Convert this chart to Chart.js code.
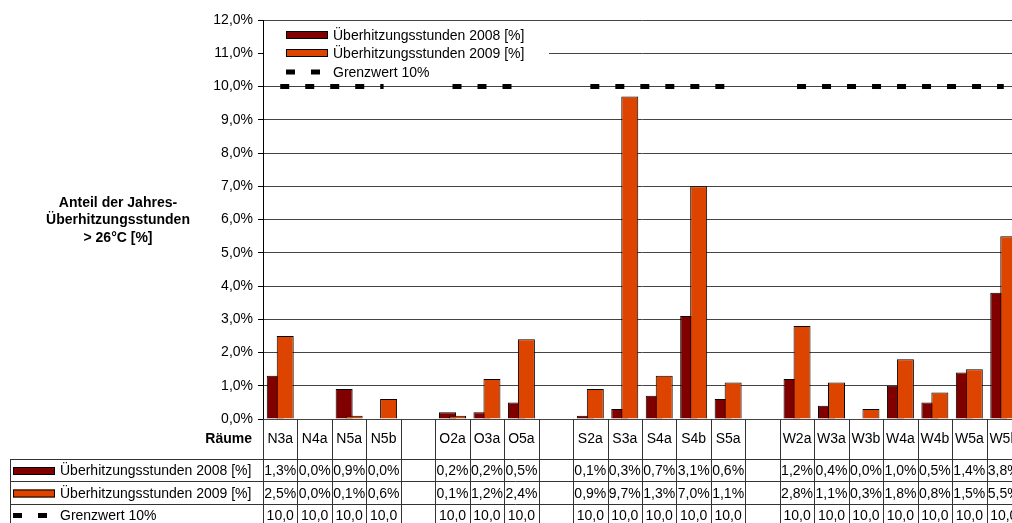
<!DOCTYPE html>
<html>
<head>
<meta charset="utf-8">
<script src="https://cdn.jsdelivr.net/npm/chart.js@4.4.1/dist/chart.umd.min.js"></script>
<style>
  html, body { margin: 0; padding: 0; background: #fff; overflow: hidden; }
  #wrap { width: 1021px; height: 523px; }
</style>
</head>
<body>
<div id="wrap"><canvas id="c" width="1021" height="523"></canvas></div>
<script>
// Rooms (empty entries separate the building sides N / O / S / W)
const rooms = ['N3a', 'N4a', 'N5a', 'N5b', '', 'O2a', 'O3a', 'O5a', '',
               'S2a', 'S3a', 'S4a', 'S4b', 'S5a', '',
               'W2a', 'W3a', 'W3b', 'W4a', 'W4b', 'W5a', 'W5b'];

// Share of annual overheating hours > 26 °C, in percent
const hours2008 = [1.3, 0.0, 0.9, 0.0, null, 0.2, 0.2, 0.5, null,
                   0.1, 0.3, 0.7, 3.1, 0.6, null,
                   1.2, 0.4, 0.0, 1.0, 0.5, 1.4, 3.8];
const hours2009 = [2.5, 0.0, 0.1, 0.6, null, 0.1, 1.2, 2.4, null,
                   0.9, 9.7, 1.3, 7.0, 1.1, null,
                   2.8, 1.1, 0.3, 1.8, 0.8, 1.5, 5.5];
const limit10   = [10, 10, 10, 10, null, 10, 10, 10, null,
                   10, 10, 10, 10, 10, null,
                   10, 10, 10, 10, 10, 10, 10];

const seriesNames = ['Überhitzungsstunden 2008 [%]', 'Überhitzungsstunden 2009 [%]', 'Grenzwert 10%'];
const axisTitle = ['Anteil der Jahres-', 'Überhitzungsstunden', '> 26°C [%]'];
const tableHeader = 'Räume';

const DARK = '#800000';
const ORANGE = '#DD4400';
const FONT = '"Liberation Sans", Arial, sans-serif';

const pct = v => v.toFixed(1).replace('.', ',') + '%';
const num = v => v.toFixed(1).replace('.', ',');

// 2009 bars overlap the 2008 bars: draw them right after the 2008 series
const overlapOrder = {
  id: 'overlapOrder',
  beforeDatasetDraw(chart, args) {
    if (args.index === 1 && !chart.$draw2009) return false;
  },
  afterDatasetDraw(chart, args) {
    if (args.index === 0) {
      chart.$draw2009 = true;
      chart._drawDataset(chart.getDatasetMeta(1));
      chart.$draw2009 = false;
    }
  }
};

function drawKey(ctx, type, x, y) {
  if (type === 2) {
    ctx.fillStyle = '#000';
    ctx.fillRect(x, y - 2.5, 9, 5);
    ctx.fillRect(x + 25, y - 2.5, 9, 5);
  } else {
    ctx.fillStyle = type === 0 ? DARK : ORANGE;
    ctx.fillRect(x, y - 4, 42, 8);
    ctx.strokeStyle = '#000';
    ctx.lineWidth = 1;
    ctx.strokeRect(x + 0.5, y - 3.5, 41, 7);
  }
}

// Legend box inside the plot area
const plotLegend = {
  id: 'plotLegend',
  beforeDatasetsDraw(chart) {
    const ctx = chart.ctx;
    const a = chart.chartArea;
    ctx.save();
    ctx.fillStyle = '#fff';
    ctx.fillRect(a.left + 1, a.top + 2, 548 - a.left, 62);
    const rows = [a.top + 15, a.top + 33, a.top + 52];
    ctx.font = '14px ' + FONT;
    ctx.textBaseline = 'middle';
    ctx.textAlign = 'left';
    seriesNames.forEach((name, i) => {
      drawKey(ctx, i, a.left + 23, rows[i]);
      ctx.fillStyle = '#000';
      ctx.fillText(name, a.left + 70, rows[i] + 1);
    });
    ctx.restore();
  }
};

// Axis title and the data table below the plot
const dataTable = {
  id: 'dataTable',
  afterDraw(chart) {
    const ctx = chart.ctx;
    const a = chart.chartArea;
    const xs = chart.scales.x;
    const n = rooms.length;
    const w = xs.getPixelForValue(1) - xs.getPixelForValue(0);
    const left = xs.getPixelForValue(0) - w / 2;
    const bottom = chart.height + 4;
    ctx.save();

    // y axis title
    ctx.fillStyle = '#000';
    ctx.font = 'bold 14px ' + FONT;
    ctx.textAlign = 'center';
    ctx.textBaseline = 'middle';
    axisTitle.forEach((t, i) => ctx.fillText(t, 118, 203 + i * 17.5));

    // grid of the table
    const lineY = [a.bottom + 40, a.bottom + 62, a.bottom + 85];
    ctx.strokeStyle = '#333';
    ctx.lineWidth = 1;
    ctx.beginPath();
    for (let k = 0; k <= n; k++) {
      const px = Math.round(left + k * w) + 0.5;
      ctx.moveTo(px, a.bottom);
      ctx.lineTo(px, bottom);
    }
    lineY.forEach(y => { ctx.moveTo(10, y + 0.5); ctx.lineTo(chart.width, y + 0.5); });
    ctx.moveTo(10.5, lineY[0]);
    ctx.lineTo(10.5, bottom);
    ctx.stroke();

    // header row: room names
    ctx.font = 'bold 14px ' + FONT;
    ctx.textAlign = 'right';
    ctx.fillText(tableHeader, a.left - 11, a.bottom + 20);
    ctx.font = '14px ' + FONT;
    ctx.textAlign = 'center';
    rooms.forEach((r, i) => { if (r) ctx.fillText(r, xs.getPixelForValue(i), a.bottom + 20); });

    // series rows
    const rowY = [a.bottom + 51.5, a.bottom + 74, a.bottom + 96];
    const series = [hours2008, hours2009, limit10];
    series.forEach((vals, s) => {
      drawKey(ctx, s, 13, rowY[s] + 0.5);
      ctx.fillStyle = '#000';
      ctx.textAlign = 'left';
      ctx.fillText(seriesNames[s], 60, rowY[s] + 1);
      ctx.textAlign = 'center';
      vals.forEach((v, i) => {
        if (v === null) return;
        ctx.fillText(s === 2 ? num(v) : pct(v), xs.getPixelForValue(i), rowY[s] + 1);
      });
    });
    ctx.restore();
  }
};

new Chart(document.getElementById('c'), {
  data: {
    labels: rooms,
    datasets: [
      {
        type: 'bar', label: seriesNames[0], data: hours2008, order: 1,
        backgroundColor: DARK, borderColor: '#000', borderWidth: 1,
        categoryPercentage: 0.58, barPercentage: 1.7
      },
      {
        type: 'bar', label: seriesNames[1], data: hours2009, order: 2,
        backgroundColor: ORANGE, borderColor: '#000', borderWidth: 1,
        categoryPercentage: 0.58, barPercentage: 1.7
      },
      {
        type: 'line', label: seriesNames[2], data: limit10, order: 0,
        borderColor: '#000', borderWidth: 5, borderDash: [9, 16], borderCapStyle: 'butt',
        pointRadius: 0, spanGaps: false, fill: false, tension: 0
      }
    ]
  },
  options: {
    responsive: false,
    animation: false,
    events: [],
    layout: { padding: { top: 20, bottom: 104, left: 0, right: 0 } },
    plugins: { legend: { display: false }, tooltip: { enabled: false } },
    scales: {
      x: { display: false },
      y: {
        min: 0, max: 12,
        afterFit(s) { s.width = 263; s.paddingTop = 0; s.paddingBottom = 0; },
        ticks: {
          stepSize: 1, padding: 5, color: '#000',
          font: { family: FONT, size: 14 },
          callback: v => pct(v)
        },
        grid: { color: '#444', lineWidth: 1, tickLength: 5, tickColor: '#000' },
        border: { display: true, color: '#000', width: 1 }
      }
    }
  },
  plugins: [overlapOrder, plotLegend, dataTable]
});
</script>
</body>
</html>
